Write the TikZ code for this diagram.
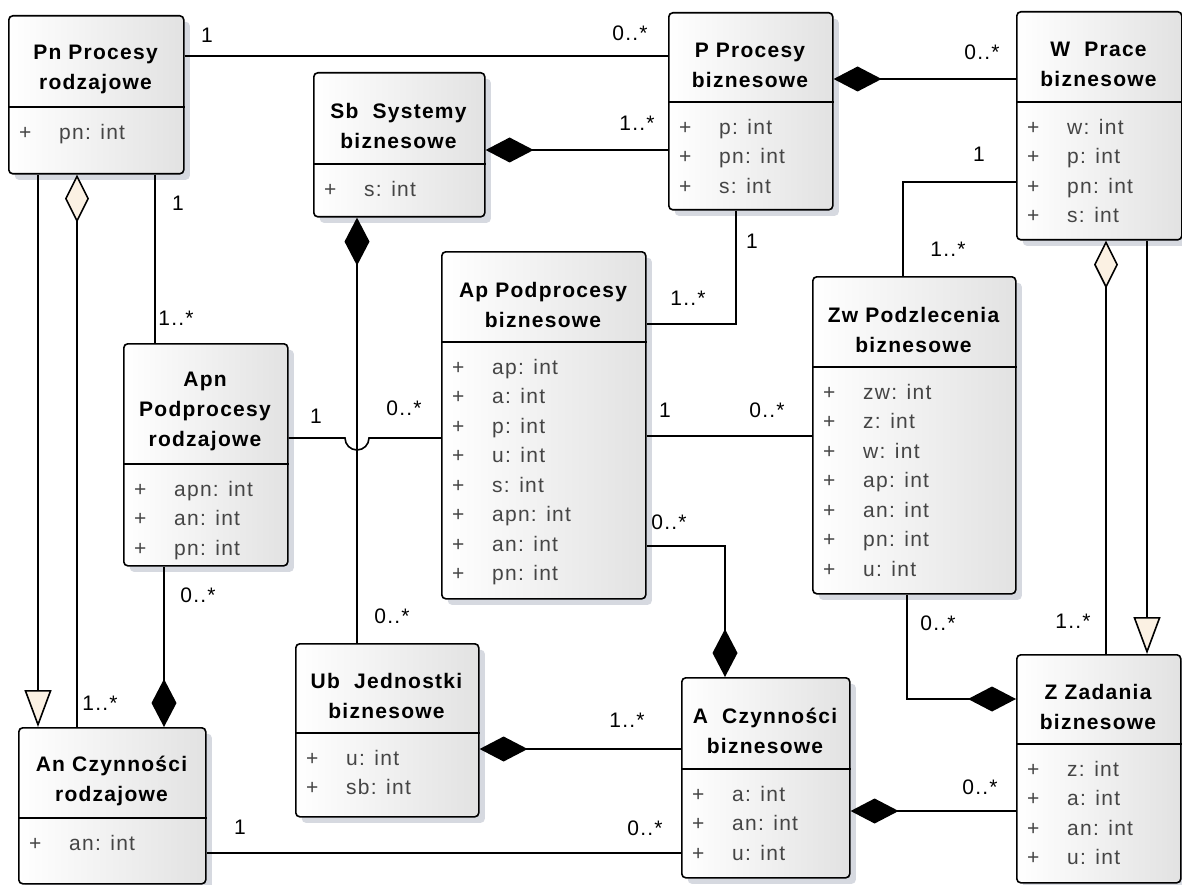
\documentclass[tikz,border=0pt]{standalone}
\usepackage{fontspec}
\usetikzlibrary{arrows.meta,shadows,positioning}
\newfontfamily\umlfont[LetterSpace=6]{Liberation Sans}
\definecolor{attrgray}{HTML}{454545}
\definecolor{cream}{HTML}{FBF1E3}
\definecolor{boxgray}{HTML}{E2E2E2}
\definecolor{shadowgray}{HTML}{D6D9E0}
\tikzset{
    classbox/.style={draw, line width=1.6pt, rounded corners=4pt, left color=white, right color=boxgray,
        drop shadow={shadow xshift=6pt, shadow yshift=-6pt, fill=shadowgray, opacity=1}, inner sep=0pt},
    classtitle/.style={align=center, font=\umlfont\bfseries\fontsize{21}{30}\selectfont, inner sep=0pt},
    classattrs/.style={align=left, anchor=north west, font=\umlfont\fontsize{21}{29.5}\selectfont,
        text=attrgray, inner sep=0pt},
    mult/.style={font=\umlfont\fontsize{21}{25}\selectfont, inner sep=0pt},
    assoc/.style={line width=1.6pt},
    comp/.style={assoc, {Diamond[length=48pt, width=25pt, fill=black]}-},
    agg/.style={assoc, {Diamond[length=48pt, width=24pt, fill=cream]}-},
    gen/.style={assoc, -{Triangle[length=37pt, width=27pt, fill=cream]}}
}
\newcommand{\attr}[1]{\makebox[40pt][l]{+}#1}
\newcommand{\umlclass}[8]{
    \node[classbox, anchor=north west, minimum width={(#4-#2)*1pt}, minimum height={(#5-#3)*1pt}] (#1) at (#2,#3) {};
    \draw[line width=1.6pt] (#1.west |- 0,#6) -- (#1.east |- 0,#6);
    \node[classtitle] (#1-title) at ({(#2+#4)/2},{(#3+#6)/2+8}) {#7};
    \node[classattrs] (#1-attrs) at (#2+11,#6+17) {#8};
}

\begin{document}
\begin{tikzpicture}[x=1pt, y=-1pt]
    \useasboundingbox (0,0) rectangle (1182,885);

    \umlclass{pn}{8}{15}{183}{173}{107}{Pn Procesy\\rodzajowe}{\attr{pn: int}}
    \umlclass{sb}{313}{72}{484}{216}{164}{Sb~~Systemy\\biznesowe}{\attr{s: int}}
    \umlclass{p}{668}{12}{832}{209}{102}{P Procesy\\biznesowe}{\attr{p: int}\\\attr{pn: int}\\\attr{s: int}}
    \umlclass{w}{1016}{11}{1181}{239}{102}{W~~Prace\\biznesowe}{\attr{w: int}\\\attr{p: int}\\\attr{pn: int}\\\attr{s: int}}
    \umlclass{apn}{123}{343}{287}{565}{464}{Apn\\Podprocesy\\rodzajowe}{\attr{apn: int}\\\attr{an: int}\\\attr{pn: int}}
    \umlclass{ap}{441}{251}{645}{598}{342}{Ap Podprocesy\\biznesowe}{\attr{ap: int}\\\attr{a: int}\\\attr{p: int}\\\attr{u: int}\\\attr{s: int}\\\attr{apn: int}\\\attr{an: int}\\\attr{pn: int}}
    \umlclass{zw}{812}{276}{1015}{593}{367}{Zw Podzlecenia\\biznesowe}{\attr{zw: int}\\\attr{z: int}\\\attr{w: int}\\\attr{ap: int}\\\attr{an: int}\\\attr{pn: int}\\\attr{u: int}}
    \umlclass{ub}{295}{643}{478}{816}{733}{Ub~~Jednostki\\biznesowe}{\attr{u: int}\\\attr{sb: int}}
    \umlclass{a}{681}{677}{849}{877}{769}{A~~Czynności\\biznesowe}{\attr{a: int}\\\attr{an: int}\\\attr{u: int}}
    \umlclass{z}{1016}{654}{1180}{882}{744}{Z Zadania\\biznesowe}{\attr{z: int}\\\attr{a: int}\\\attr{an: int}\\\attr{u: int}}
    \umlclass{an}{18}{727}{205}{883}{818}{An Czynności\\rodzajowe}{\attr{an: int}}

    \coordinate (jump) at (357,438);

    \draw[assoc] (pn.east |- 0,56) -- (p.west |- 0,56);
    \draw[comp] (sb.east |- 0,150) -- (p.west |- 0,150);
    \draw[comp] (p.east |- 0,79) -- (w.west |- 0,79);
    \draw[gen] (pn.south -| 38,0) -- (an.north -| 38,0);
    \draw[agg] (pn.south -| 77,0) -- (an.north -| 77,0);
    \draw[assoc] (pn.south -| 155,0) -- (apn.north -| 155,0);
    \draw[comp] (an.north -| 164,0) -- (apn.south -| 164,0);
    \draw[assoc] (apn.east |- jump) -- ([xshift=-12pt]jump) arc[start angle=180, end angle=360, radius=12pt] -- (ap.west |- jump);
    \draw[comp] (sb.south -| jump) -- (ub.north -| jump);
    \draw[assoc] (p.south -| 736,0) |- (ap.east |- 0,324);
    \draw[assoc] (ap.east |- 0,436) -- (zw.west |- 0,436);
    \draw[comp] (a.north -| 725,0) |- (ap.east |- 0,546);
    \draw[assoc] (w.west |- 0,182) -| (zw.north -| 903,0);
    \draw[agg] (w.south -| 1106,0) -- (z.north -| 1106,0);
    \draw[gen] (w.south -| 1147,0) -- (z.north -| 1147,0);
    \draw[comp] (z.west |- 0,699) -| (zw.south -| 907,0);
    \draw[comp] (ub.east |- 0,749) -- (a.west |- 0,749);
    \draw[comp] (a.east |- 0,811) -- (z.west |- 0,811);
    \draw[assoc] (an.east |- 0,853) -- (a.west |- 0,853);

    \foreach \x/\y/\lbl [count=\i] in {207/35/1, 630/33/0..*, 637/123/1..*, 982/52/0..*, 979/154/1, 948/249/1..*,
            752/241/1, 688/298/1..*, 178/203/1, 176/318/1..*, 316/416/1, 404/408/0..*, 665/410/1, 767/410/0..*,
            669/522/0..*, 198/595/0..*, 392/616/0..*, 100/703/1..*, 627/720/1..*, 240/827/1, 645/828/0..*,
            938/623/0..*, 1073/621/1..*, 980/787/0..*}
        \node[mult] (m\i) at (\x,\y) {\lbl};
\end{tikzpicture}
\end{document}
